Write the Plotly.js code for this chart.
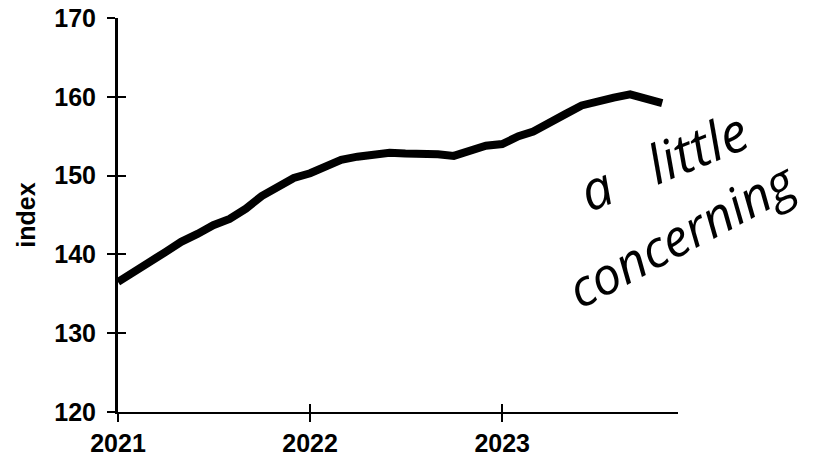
<!DOCTYPE html>
<html>
<head>
<meta charset="utf-8">
<script src="https://cdn.plot.ly/plotly-3.0.1.min.js"></script>
<style>html,body{margin:0;padding:0;background:#fff}#chart{width:825px;height:459px}</style>
</head>
<body>
<div id="chart"></div>
<script>
const months = [
  '2021-01-01','2021-02-01','2021-03-01','2021-04-01','2021-05-01','2021-06-01',
  '2021-07-01','2021-08-01','2021-09-01','2021-10-01','2021-11-01','2021-12-01',
  '2022-01-01','2022-02-01','2022-03-01','2022-04-01','2022-05-01','2022-06-01',
  '2022-07-01','2022-08-01','2022-09-01','2022-10-01','2022-11-01','2022-12-01',
  '2023-01-01','2023-02-01','2023-03-01','2023-04-01','2023-05-01','2023-06-01',
  '2023-07-01','2023-08-01','2023-09-01','2023-10-01','2023-11-01'
];
const indexValues = [
  136.5,137.7,139.0,140.3,141.6,142.6,143.7,144.5,145.8,147.4,148.6,149.7,
  150.3,151.2,152.0,152.4,152.7,152.9,152.8,152.8,152.7,152.5,153.2,153.8,
  154.0,155.0,155.6,156.6,157.8,158.9,159.5,159.9,160.3,159.8,159.2
];
const xTickVals = ['2021-01-01','2022-01-01','2023-01-01'];
const xTickText = ['2021','2022','2023'];
const yTickVals = [120,130,140,150,160,170];
const yTitle = 'index';
const noteLine1 = 'a   little';
const noteLine2 = 'concerning';

const xRange = ['2021-01-01','2023-12-01'];
const yRange = [120,170];
const tickFont = {family:'Liberation Sans, Arial, sans-serif', size:25, color:'#000', weight:700};
const handFont1 = {family:'Open Sans, sans-serif', size:54, color:'#000', style:'italic', weight:400};
const handFont2 = {family:'Open Sans, sans-serif', size:51, color:'#000', style:'italic', weight:400};

const hidden = {mode:'lines', line:{color:'rgba(0,0,0,0)', width:1}, hoverinfo:'skip', showlegend:false};
const traces = [
  {x: months, y: indexValues, mode:'lines', line:{color:'#000', width:8}, hoverinfo:'skip', showlegend:false},
  Object.assign({x: months, y: indexValues, xaxis:'x', yaxis:'y2'}, hidden),
  Object.assign({x: months, y: indexValues, xaxis:'x2', yaxis:'y'}, hidden)
];

const layout = {
  width:825, height:459,
  margin:{l:118, r:147, t:18, b:47},
  paper_bgcolor:'#fff', plot_bgcolor:'#fff',
  showlegend:false,
  xaxis:{type:'date', range:xRange, tickvals:xTickVals, ticktext:xTickText,
    showgrid:false, zeroline:false, showline:true, linecolor:'#000', linewidth:2,
    ticks:'outside', ticklen:8, tickwidth:2, tickcolor:'#000', tickfont:tickFont,
    ticklabelstandoff:0},
  xaxis2:{type:'date', range:xRange, tickvals:xTickVals, overlaying:'x', anchor:'y', side:'bottom',
    showgrid:false, zeroline:false, showline:false, showticklabels:false,
    ticks:'inside', ticklen:8, tickwidth:2, tickcolor:'#000'},
  yaxis:{range:yRange, tickvals:yTickVals, showgrid:false, zeroline:false,
    showline:true, linecolor:'#000', linewidth:3,
    ticks:'outside', ticklen:8, tickwidth:2, tickcolor:'#000', tickfont:tickFont,
    ticklabelstandoff:6,
    title:{text:yTitle, font:{family:'Liberation Sans, Arial, sans-serif', size:25, color:'#000', weight:700}, standoff:12}},
  yaxis2:{range:yRange, tickvals:yTickVals, overlaying:'y', anchor:'x', side:'left',
    showgrid:false, zeroline:false, showline:false, showticklabels:false,
    ticks:'inside', ticklen:8, tickwidth:2, tickcolor:'#000'},
  annotations:[
    {text:noteLine1, xref:'paper', yref:'paper', x:0.973, y:0.64, xanchor:'center', yanchor:'middle',
      showarrow:false, textangle:-22, font:handFont1},
    {text:noteLine2, xref:'paper', yref:'paper', x:1.007, y:0.455, xanchor:'center', yanchor:'middle',
      showarrow:false, textangle:-28, font:handFont2}
  ]
};

Plotly.newPlot('chart', traces, layout, {staticPlot:true, displayModeBar:false});
</script>
</body>
</html>
